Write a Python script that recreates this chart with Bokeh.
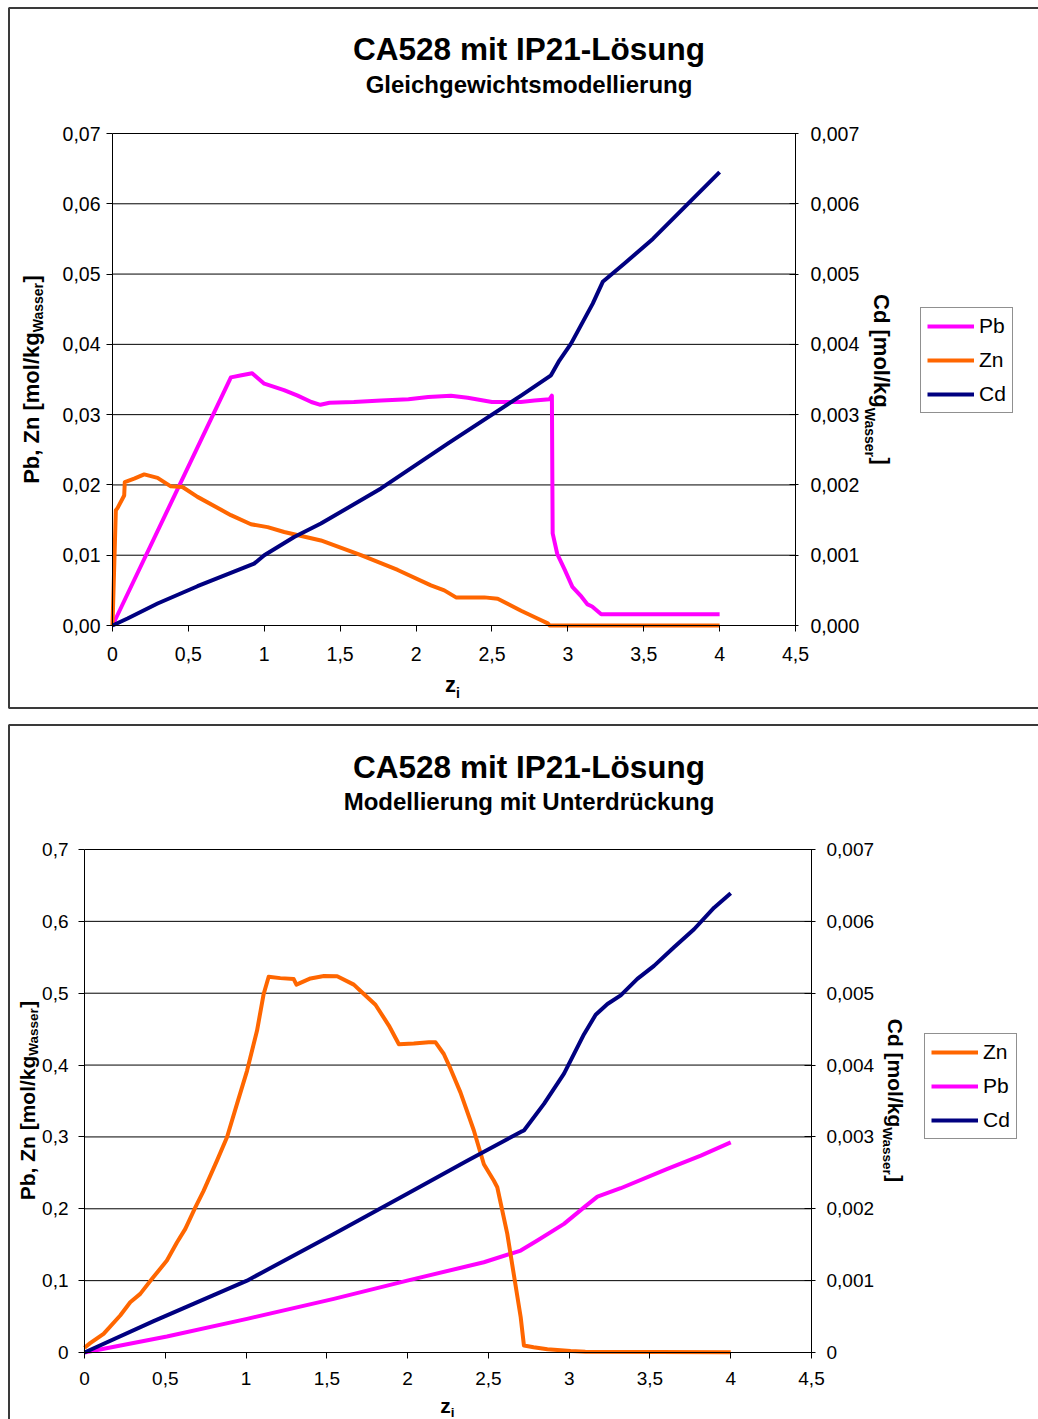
import math

from bokeh.embed import file_html
from bokeh.layouts import column
from bokeh.models import (BoxAnnotation, FixedTicker, Label, Legend, LegendItem,
                          LinearAxis, Range1d)
from bokeh.plotting import figure
from bokeh.resources import INLINE

FONT = "Liberation Sans"
PB_COLOR = "#FF00FF"
ZN_COLOR = "#FF6600"
CD_COLOR = "#000080"

# ---------------------------------------------------------------------------
# Data: Gleichgewichtsmodellierung (upper chart)
# ---------------------------------------------------------------------------
eq_pb_z = [0, 0.78, 0.85, 0.92, 1.0, 1.13, 1.22, 1.31, 1.37, 1.43, 1.59, 1.77,
           1.95, 2.08, 2.23, 2.34, 2.50, 2.69, 2.78, 2.88, 2.895, 2.90, 2.93,
           2.98, 3.03, 3.09, 3.13, 3.16, 3.22, 4.0]
eq_pb = [0, 0.0353, 0.0356, 0.0359, 0.0344, 0.0335, 0.0327, 0.0318, 0.0314,
         0.0317, 0.0318, 0.0320, 0.0322, 0.0325, 0.0327, 0.0324, 0.0318, 0.0318,
         0.0320, 0.0322, 0.0327, 0.0131, 0.0102, 0.0079, 0.0055, 0.0041, 0.0030,
         0.0027, 0.0016, 0.0016]

eq_zn_z = [0, 0.022, 0.033, 0.077, 0.081, 0.143, 0.209, 0.297, 0.384, 0.461,
           0.56, 0.78, 0.912, 1.022, 1.131, 1.373, 1.637, 1.879, 2.098, 2.186,
           2.263, 2.45, 2.538, 2.692, 2.80, 2.868, 2.88, 4.0]
eq_zn = [0, 0.0164, 0.0167, 0.0185, 0.0204, 0.0209, 0.0215, 0.0210, 0.0198,
         0.0197, 0.0183, 0.0157, 0.0144, 0.0140, 0.0133, 0.0121, 0.0100, 0.0079,
         0.0057, 0.0050, 0.0040, 0.0040, 0.0038, 0.0021, 0.0010, 0.0003, 0, 0]

eq_cd_z = [0, 0.099, 0.297, 0.56, 0.933, 1.0, 1.197, 1.373, 1.769, 2.211, 2.692,
           2.889, 2.944, 3.021, 3.164, 3.230, 3.373, 3.56, 4.0]
eq_cd = [0, 0.0001, 0.000313, 0.000559, 0.00088, 0.001, 0.00126, 0.00145,
         0.00195, 0.00259, 0.00327, 0.00356, 0.00377, 0.00401, 0.00458, 0.00489,
         0.00515, 0.0055, 0.00645]

# ---------------------------------------------------------------------------
# Data: Modellierung mit Unterdrückung (lower chart)
# ---------------------------------------------------------------------------
sup_zn_z = [0, 0.035, 0.118, 0.221, 0.283, 0.345, 0.418, 0.51, 0.572, 0.624,
            0.686, 0.737, 0.82, 0.882, 0.944, 1.006, 1.068, 1.109, 1.14, 1.212,
            1.295, 1.312, 1.399, 1.482, 1.564, 1.667, 1.719, 1.801, 1.884, 1.946,
            2.038, 2.131, 2.173, 2.224, 2.266, 2.327, 2.41, 2.472, 2.534, 2.555,
            2.617, 2.70, 2.72, 2.78, 2.865, 3.009, 3.1, 4.0]
sup_zn = [0.0065, 0.013, 0.026, 0.0515, 0.070, 0.0816, 0.1025, 0.128, 0.153,
          0.172, 0.202, 0.225, 0.267, 0.2995, 0.346, 0.392, 0.448, 0.499, 0.523,
          0.521, 0.5197, 0.512, 0.5206, 0.524, 0.5237, 0.512, 0.501, 0.484,
          0.455, 0.429, 0.430, 0.4316, 0.4316, 0.4154, 0.3946, 0.362, 0.309,
          0.262, 0.239, 0.230, 0.165, 0.049, 0.0097, 0.0074, 0.0046, 0.002,
          0.001, 0.0005]

sup_pb_z = [0, 0.51, 1.006, 1.543, 1.998, 2.472, 2.70, 2.803, 2.968, 3.092,
            3.175, 3.319, 3.608, 3.815, 4.0]
sup_pb = [0, 0.0222, 0.0468, 0.0746, 0.100, 0.1256, 0.1419, 0.1558, 0.179,
          0.202, 0.217, 0.2286, 0.2555, 0.274, 0.2925]

sup_cd_z = [0, 0.428, 1.006, 1.543, 1.998, 2.369, 2.70, 2.72, 2.844, 2.968,
            3.092, 3.164, 3.237, 3.319, 3.422, 3.525, 3.649, 3.773, 3.897, 4.0]
sup_cd = [0, 0.000436, 0.001, 0.00165, 0.00221, 0.00267, 0.00307, 0.00309,
          0.00346, 0.00388, 0.00443, 0.0047, 0.00485, 0.00497, 0.0052, 0.00538,
          0.00564, 0.00589, 0.00619, 0.00639]

# ---------------------------------------------------------------------------
# Ticks and their labels (German decimal comma)
# ---------------------------------------------------------------------------
x_ticks = [0, 0.5, 1, 1.5, 2, 2.5, 3, 3.5, 4, 4.5]
x_tick_labels = ["0", "0,5", "1", "1,5", "2", "2,5", "3", "3,5", "4", "4,5"]

eq_left_ticks = [0, 0.01, 0.02, 0.03, 0.04, 0.05, 0.06, 0.07]
eq_left_labels = ["0,00", "0,01", "0,02", "0,03", "0,04", "0,05", "0,06", "0,07"]

cd_ticks = [0, 0.001, 0.002, 0.003, 0.004, 0.005, 0.006, 0.007]
eq_right_labels = ["0,000", "0,001", "0,002", "0,003", "0,004", "0,005",
                   "0,006", "0,007"]

sup_left_ticks = [0, 0.1, 0.2, 0.3, 0.4, 0.5, 0.6, 0.7]
sup_left_labels = ["0", "0,1", "0,2", "0,3", "0,4", "0,5", "0,6", "0,7"]
sup_right_labels = ["0", "0,001", "0,002", "0,003", "0,004", "0,005",
                    "0,006", "0,007"]

X_MAX = 4.5
CD_MAX = 0.007

# Advance widths of Arial/Liberation Sans Bold (1/1000 em), used to chain
# the pieces of the subscripted axis titles.
BOLD_WIDTHS = {
    "P": 667, "b": 611, ",": 278, " ": 278, "Z": 611, "n": 611, "[": 333,
    "m": 889, "o": 611, "l": 278, "/": 278, "k": 556, "g": 611, "W": 944,
    "a": 556, "s": 556, "e": 556, "r": 389, "]": 333, "C": 722, "d": 611,
    "z": 500, "i": 278,
}

# The label anchor sits this fraction of the font size below the glyph
# baseline, so anchors are lifted by it to put baselines where intended.
BASELINE_LIFT = 0.38


def text_width(text, size):
    return sum(BOLD_WIDTHS[c] for c in text) / 1000.0 * size


class Canvas:
    """Pixel layout of one chart panel.

    The plotting frame covers the whole canvas; the data area (x 0..4.5,
    y 0..ymax) sits at the given pixel box and the axes are pinned to its
    edges with fixed_location.
    """

    def __init__(self, width, height, left, right, top, bottom, ymax):
        self.width, self.height = width, height
        self.left, self.right, self.top, self.bottom = left, right, top, bottom
        self.ymax = ymax

    def x_range(self):
        span = self.right - self.left
        return Range1d(-self.left / span * X_MAX,
                       (self.width - self.left) / span * X_MAX)

    def y_range(self, vmax):
        span = self.bottom - self.top
        return Range1d(-(self.height - self.bottom) / span * vmax,
                       self.bottom / span * vmax)

    def to_data(self, sx, sy):
        x = (sx - self.left) / (self.right - self.left) * X_MAX
        y = (self.bottom - sy) / (self.bottom - self.top) * self.ymax
        return x, y


def make_chart(cv, left_ticks, left_labels, right_labels, tick_size,
               left_standoff, right_standoff, x_standoff, right_tick_in,
               right_tick_out):
    p = figure(width=cv.width, height=cv.height, x_range=cv.x_range(),
               y_range=cv.y_range(cv.ymax), output_backend="svg",
               toolbar_location=None, title=None,
               min_border_left=0, min_border_right=0,
               min_border_top=0, min_border_bottom=0)
    p.extra_y_ranges = {"cd": cv.y_range(CD_MAX)}
    p.outline_line_color = None
    p.background_fill_color = "white"
    p.border_fill_color = "white"
    p.xgrid.grid_line_color = None
    p.ygrid.grid_line_color = None

    # horizontal grid lines across the data area, one per left-axis tick
    grid_levels = left_ticks[1:]
    p.segment(x0=[x_ticks[0]] * len(grid_levels), x1=[x_ticks[-1]] * len(grid_levels),
              y0=grid_levels, y1=grid_levels, line_color="black", line_width=1)

    right_axis = LinearAxis(y_range_name="cd")
    p.add_layout(right_axis, "right")

    xaxis = p.xaxis[0]
    yaxis = p.yaxis[0]
    xaxis.fixed_location = 0
    xaxis.bounds = (x_ticks[0], x_ticks[-1])
    xaxis.ticker = FixedTicker(ticks=x_ticks)
    xaxis.major_label_overrides = dict(zip(x_ticks, x_tick_labels))
    xaxis.major_label_standoff = x_standoff

    yaxis.fixed_location = 0
    yaxis.bounds = (left_ticks[0], left_ticks[-1])
    yaxis.ticker = FixedTicker(ticks=left_ticks)
    yaxis.major_label_overrides = dict(zip(left_ticks, left_labels))
    yaxis.major_label_standoff = left_standoff

    right_axis.fixed_location = X_MAX
    right_axis.bounds = (cd_ticks[0], cd_ticks[-1])
    right_axis.ticker = FixedTicker(ticks=cd_ticks)
    right_axis.major_label_overrides = dict(zip(cd_ticks, right_labels))
    right_axis.major_label_standoff = right_standoff

    for ax in [xaxis, yaxis, right_axis]:
        ax.axis_line_color = "black"
        ax.axis_line_width = 1
        ax.major_tick_line_color = "black"
        ax.major_tick_in = 0
        ax.major_tick_out = 6
        ax.minor_tick_line_color = None
        ax.major_label_text_font = FONT
        ax.major_label_text_font_size = tick_size
        ax.major_label_text_color = "black"
        ax.major_label_orientation = "horizontal"
    right_axis.major_tick_in = right_tick_in
    right_axis.major_tick_out = right_tick_out
    return p


def add_frame(p, cv, top_px, bottom_px):
    left, top = cv.to_data(8.5, top_px)
    right, bottom = cv.to_data(cv.width + 20, bottom_px)
    p.add_layout(BoxAnnotation(left=left, right=right, top=top, bottom=bottom,
                               fill_color=None, fill_alpha=0,
                               line_color="#3a3a3a", line_alpha=1.0,
                               line_width=2))


def add_text(p, cv, text, sx, sy, size, bold=True, align="left", angle=0.0):
    """Place text so that its baseline starts at canvas pixel (sx, sy)."""
    lift = BASELINE_LIFT * size
    sx -= math.sin(angle) * lift
    sy -= math.cos(angle) * lift
    x, y = cv.to_data(sx, sy)
    p.add_layout(Label(x=x, y=y, text=text, angle=angle, text_align=align,
                       text_baseline="alphabetic", text_font=FONT,
                       text_font_size=f"{size}px",
                       text_font_style="bold" if bold else "normal",
                       text_color="black"))


def add_headline(p, cv, title, subtitle, cx, title_base, sub_base):
    add_text(p, cv, title, cx, title_base, 31.5, align="center")
    add_text(p, cv, subtitle, cx, sub_base, 24, align="center")


def add_vertical_title(p, cv, main, sub, tail, size, sub_size, base_x,
                       center_y, drop, side):
    w_main = text_width(main, size)
    w_sub = text_width(sub, sub_size)
    w_tail = text_width(tail, size)
    total = w_main + w_sub + w_tail
    if side == "left":
        start = center_y + total / 2
        pieces = [(main, size, base_x, start),
                  (sub, sub_size, base_x + drop, start - w_main),
                  (tail, size, base_x, start - w_main - w_sub)]
        angle = math.pi / 2
    else:
        start = center_y - total / 2
        pieces = [(main, size, base_x, start),
                  (sub, sub_size, base_x - drop, start + w_main),
                  (tail, size, base_x, start + w_main + w_sub)]
        angle = -math.pi / 2
    for text, fs, sx, sy in pieces:
        add_text(p, cv, text, sx, sy, fs, angle=angle)


def add_zi(p, cv, cx, base_y, size, sub_size, drop):
    wz = text_width("z", size)
    wi = text_width("i", sub_size)
    x0 = cx - (wz + wi) / 2
    add_text(p, cv, "z", x0, base_y, size)
    add_text(p, cv, "i", x0 + wz, base_y + drop, sub_size)


def add_legend(p, cv, renderers, labels, box_left, box_bottom):
    items = [LegendItem(label=lab, renderers=[r]) for lab, r in zip(labels, renderers)]
    legend = Legend(items=items,
                    location=(box_left, cv.height - box_bottom),
                    label_text_font=FONT, label_text_font_size="21px",
                    label_text_color="black",
                    border_line_color="#222222", border_line_width=1,
                    background_fill_color="white", background_fill_alpha=1,
                    padding=6, spacing=10, margin=0,
                    glyph_width=47, glyph_height=24, label_height=24,
                    label_width=27, label_standoff=5)
    p.add_layout(legend)


LINE_W = 4

# ---------------------------------------------------------------------------
# Upper chart
# ---------------------------------------------------------------------------
cv1 = Canvas(width=1038, height=716, left=112, right=795, top=133, bottom=625,
             ymax=0.07)
p1 = make_chart(cv1, eq_left_ticks, eq_left_labels, eq_right_labels, "19.5px",
                left_standoff=6, right_standoff=12, x_standoff=15,
                right_tick_in=6, right_tick_out=3)
r_pb1 = p1.line(eq_pb_z, eq_pb, line_color=PB_COLOR, line_width=LINE_W, line_join="round")
r_zn1 = p1.line(eq_zn_z, eq_zn, line_color=ZN_COLOR, line_width=LINE_W, line_join="round")
r_cd1 = p1.line(eq_cd_z, eq_cd, line_color=CD_COLOR, line_width=LINE_W,
                line_join="round", y_range_name="cd")
add_frame(p1, cv1, 7.5, 707.5)
add_headline(p1, cv1, "CA528 mit IP21-Lösung", "Gleichgewichtsmodellierung",
             528.5, 60, 93)
add_vertical_title(p1, cv1, "Pb, Zn [mol/kg", "Wasser", "]", 22, 14,
                   39, 379, 4, "left")
add_vertical_title(p1, cv1, "Cd [mol/kg", "Wasser", "]", 22, 14,
                   873, 379, 9, "right")
add_zi(p1, cv1, 452, 692, 22, 14, 6)
add_legend(p1, cv1, [r_pb1, r_zn1, r_cd1], ["Pb", "Zn", "Cd"], 920, 413)

# ---------------------------------------------------------------------------
# Lower chart
# ---------------------------------------------------------------------------
cv2 = Canvas(width=1038, height=703, left=84, right=811, top=133, bottom=636,
             ymax=0.7)
p2 = make_chart(cv2, sup_left_ticks, sup_left_labels, sup_right_labels, "19px",
                left_standoff=10, right_standoff=11, x_standoff=13,
                right_tick_in=7, right_tick_out=4)
r_pb2 = p2.line(sup_pb_z, sup_pb, line_color=PB_COLOR, line_width=LINE_W, line_join="round")
r_zn2 = p2.line(sup_zn_z, sup_zn, line_color=ZN_COLOR, line_width=LINE_W, line_join="round")
r_cd2 = p2.line(sup_cd_z, sup_cd, line_color=CD_COLOR, line_width=LINE_W,
                line_join="round", y_range_name="cd")
add_frame(p2, cv2, 8.5, 900)
add_headline(p2, cv2, "CA528 mit IP21-Lösung", "Modellierung mit Unterdrückung",
             528.5, 62, 94)
add_vertical_title(p2, cv2, "Pb, Zn [mol/kg", "Wasser", "]", 21, 13.5,
                   35, 384, 3, "left")
add_vertical_title(p2, cv2, "Cd [mol/kg", "Wasser", "]", 21, 13.5,
                   887, 384, 5, "right")
add_zi(p2, cv2, 447, 697, 21, 13.5, 4)
add_legend(p2, cv2, [r_zn2, r_pb2, r_cd2], ["Zn", "Pb", "Cd"], 924, 1139 - 716)

layout = column(p1, p2, spacing=0)

with open("out.html", "w") as f:
    f.write(file_html(layout, INLINE))
